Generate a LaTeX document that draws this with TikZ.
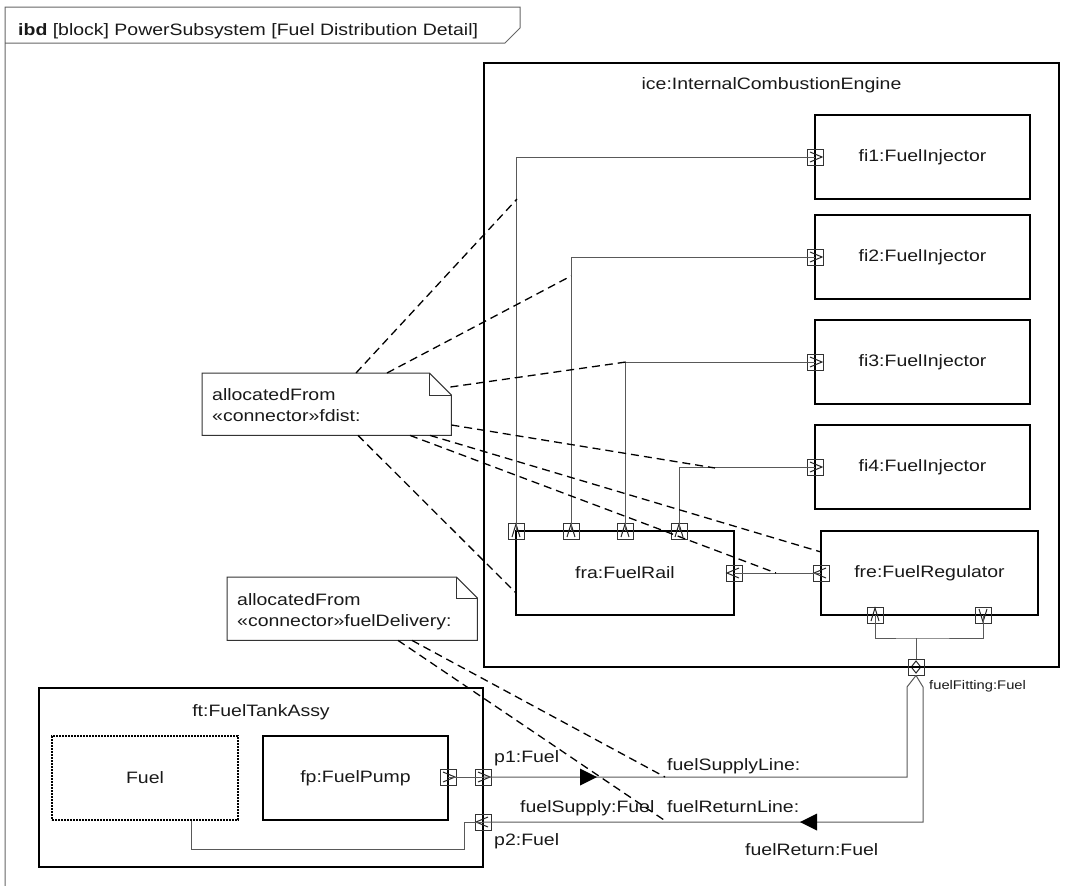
\documentclass[tikz,border=0pt]{standalone}
\usepackage{fontspec}
\setmainfont{Liberation Sans}[FakeStretch=1.18]
\newcommand\fsn{\fontsize{16.5}{20}\selectfont}
\newcommand\fsm{\fontsize{12.5}{14}\selectfont}
\newcommand\chevR[1]{\draw[glyph] ([shift={(-5,-5)}]#1.center) -- ([shift={(7,0)}]#1.center) -- ([shift={(-5,5)}]#1.center);}
\newcommand\chevL[1]{\draw[glyph] ([shift={(5,-5)}]#1.center) -- ([shift={(-7,0)}]#1.center) -- ([shift={(5,5)}]#1.center);}
\newcommand\chevU[1]{\draw[glyph] ([shift={(-4,6)}]#1.center) -- ([shift={(0,-7)}]#1.center) -- ([shift={(4,6)}]#1.center);}
\newcommand\chevD[1]{\draw[glyph] ([shift={(-4,-6)}]#1.center) -- ([shift={(0,7)}]#1.center) -- ([shift={(4,-6)}]#1.center);}
\newcommand\chevUD[1]{\draw[glyph] ([shift={(-4,-1)}]#1.center) -- ([shift={(0,-6)}]#1.center) -- ([shift={(4,-1)}]#1.center);
  \draw[glyph] ([shift={(-4,1)}]#1.center) -- ([shift={(0,6)}]#1.center) -- ([shift={(4,1)}]#1.center);}
\begin{document}
\begin{tikzpicture}[x=1pt,y=-1pt,
  every node/.style={font=\fsn, text=black!90},
  blk/.style={draw=black, line width=1.4, inner sep=0},
  port/.style={draw=black!80, line width=1, minimum size=16, inner sep=0},
  glyph/.style={line width=1, black!85},
  conn/.style={line width=1, draw=black!65},
  alloc/.style={line width=1.3, dash pattern=on 8pt off 5pt, black},
  noteline/.style={line width=1, black!80},
  lbl/.style={anchor=base west, inner sep=0},
  frameline/.style={line width=1, black!60}]
\useasboundingbox (0,0) rectangle (1069,886);
% frame
\draw[frameline] (5,886) -- (5,7) -- (520,7) -- (520,28) -- (505,43) -- (5,43);
\node[lbl] (title) at (18,35) {\textbf{ibd} [block] PowerSubsystem [Fuel Distribution Detail]};
% engine
\node[blk, line width=1.8, minimum width=575, minimum height=604] (ice) at (771.5,365) {};
\node[anchor=base, inner sep=0] (iceL) at (771.5,89) {ice:InternalCombustionEngine};
\node[blk, minimum width=215, minimum height=84] (fi1) at (922.5,157) {fi1:FuelInjector};
\node[blk, minimum width=215, minimum height=84] (fi2) at (922.5,257) {fi2:FuelInjector};
\node[blk, minimum width=215, minimum height=84] (fi3) at (922.5,362) {fi3:FuelInjector};
\node[blk, minimum width=215, minimum height=84] (fi4) at (922.5,467) {fi4:FuelInjector};
\node[blk, minimum width=218, minimum height=84] (rail) at (625,573) {fra:FuelRail};
\node[blk, minimum width=217, minimum height=84] (reg) at (929.5,573) {fre:FuelRegulator};
% tank
\node[blk, minimum width=444, minimum height=179] (ft) at (261,777.5) {};
\node[anchor=base, inner sep=0] (ftL) at (261,716) {ft:FuelTankAssy};
\node[blk, line width=2, dash pattern=on 2pt off 1pt, minimum width=186, minimum height=84] (fuel) at (145,778) {Fuel};
\node[blk, minimum width=185, minimum height=84] (fp) at (355.5,778) {fp:FuelPump};
% ports
\node[port] (pfi1) at (815,157) {};
\node[port] (pfi2) at (815,257) {};
\node[port] (pfi3) at (815,362) {};
\node[port] (pfi4) at (815,467) {};
\node[port] (pr1) at (516,531) {};
\node[port] (pr2) at (571,531) {};
\node[port] (pr3) at (625,531) {};
\node[port] (pr4) at (679,531) {};
\node[port] (prR) at (734,573) {};
\node[port] (pgL) at (821,573) {};
\node[port] (pgB1) at (875,615) {};
\node[port] (pgB2) at (983,615) {};
\node[port] (pff) at (916,667) {};
\node[port] (pfp) at (448,777) {};
\node[port] (pp1) at (483,777) {};
\node[port] (pp2) at (483,822) {};
\chevR{pfi1}\chevR{pfi2}\chevR{pfi3}\chevR{pfi4}
\chevU{pr1}\chevU{pr2}\chevU{pr3}\chevU{pr4}
\chevL{prR}\chevL{pgL}
\chevU{pgB1}\chevD{pgB2}
\chevUD{pff}
\chevR{pfp}\chevR{pp1}\chevL{pp2}
% connectors
\draw[conn] (pr1.center) |- (pfi1.center);
\draw[conn] (pr2.center) |- (pfi2.center);
\draw[conn] (pr3.center) |- (pfi3.center);
\draw[conn] (pr4.center) |- (pfi4.center);
\draw[conn] (prR.center) -- (pgL.center);
\coordinate (j1) at (916,638);
\draw[conn] (pgB1.center) |- (j1) -| (pgB2.center);
\draw[conn] (j1) -- (pff.north);
\coordinate (ff1) at (907,687);
\coordinate (ff2) at (923,687);
\draw[conn] (pp1.center) -| (ff1) -- (pff.south);
\draw[conn] (pff.south) -- (ff2) |- (pp2.center);
\fill[black] (580,768.5) -- (597,777) -- (580,785.5) -- cycle;
\fill[black] (800,822) -- (817,813.5) -- (817,830.5) -- cycle;
\draw[conn] (pfp.center) -- (pp1.center);
\coordinate (fb1) at (464,849);
\draw[conn] ([shift={(46,0)}]fuel.south) |- (fb1) |- (pp2.center);
% labels
\node[lbl, font=\fsm] (lff) at (929,689) {fuelFitting:Fuel};
\node[lbl] (lp1) at (494,762) {p1:Fuel};
\node[lbl] (lsl) at (667,770) {fuelSupplyLine:};
\node[lbl] (lfs) at (520,812) {fuelSupply:Fuel};
\node[lbl] (lrl) at (667,812) {fuelReturnLine:};
\node[lbl] (lp2) at (494,845) {p2:Fuel};
\node[lbl] (lfr) at (745,855) {fuelReturn:Fuel};
% note 1
\node[minimum width=249, minimum height=62, anchor=north west, inner sep=0] (n1) at (202,373) {};
\draw[noteline] (n1.north west) -- ([shift={(-22,0)}]n1.north east) -- ([shift={(0,22)}]n1.north east) -- (n1.south east) -- (n1.south west) -- cycle;
\draw[noteline] ([shift={(-22,0)}]n1.north east) |- ([shift={(0,22)}]n1.north east);
\node[lbl] (n1a) at (212,400) {allocatedFrom};
\node[lbl] (n1b) at (212,421) {«connector»fdist:};
% note 2
\node[minimum width=250, minimum height=63, anchor=north west, inner sep=0] (n2) at (227,577) {};
\draw[noteline] (n2.north west) -- ([shift={(-21,0)}]n2.north east) -- ([shift={(0,21)}]n2.north east) -- (n2.south east) -- (n2.south west) -- cycle;
\draw[noteline] ([shift={(-21,0)}]n2.north east) |- ([shift={(0,21)}]n2.north east);
\node[lbl] (n2a) at (237,605) {allocatedFrom};
\node[lbl] (n2b) at (237,626) {«connector»fuelDelivery:};
% allocation lines
\coordinate (a1) at (517,199);
\coordinate (a2) at (571,276);
\coordinate (a3) at (626,362);
\coordinate (a4) at (715,468);
\coordinate (a5) at (821,552);
\coordinate (a6) at (776,573);
\coordinate (a7) at (516,593);
\coordinate (b1) at (665,777);
\coordinate (b2) at (667,822);
\draw[alloc] ([shift={(154,0)}]n1.north west) -- (a1);
\draw[alloc] ([shift={(185,0)}]n1.north west) -- (a2);
\draw[alloc] ([shift={(-1,14)}]n1.north east) -- (a3);
\draw[alloc] ([shift={(0,52)}]n1.north east) -- (a4);
\draw[alloc] ([shift={(228,0)}]n1.south west) -- (a5);
\draw[alloc] ([shift={(208,0)}]n1.south west) -- (a6);
\draw[alloc] ([shift={(156,0)}]n1.south west) -- (a7);
\draw[alloc] ([shift={(185,0)}]n2.south west) -- (b1);
\draw[alloc] ([shift={(171,0)}]n2.south west) -- (b2);
\end{tikzpicture}
\end{document}
